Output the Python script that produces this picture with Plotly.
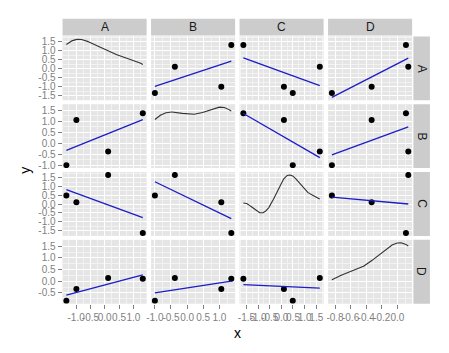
import numpy as np
import plotly.graph_objects as go
from plotly.subplots import make_subplots

# ---- data ----
VARS = ["A", "B", "C", "D"]
A = [-1.34, -0.99, 0.12, 1.33]
B = [-1.00, 1.06, -0.38, 1.37]
C = [0.49, 0.11, 1.65, -1.63]
D = [-0.84, -0.33, 0.14, 0.11]
DATA = {"A": A, "B": B, "C": C, "D": D}

X_TICKS = {
    "A": [-1.0, -0.5, 0.0, 0.5, 1.0],
    "B": [-1.0, -0.5, 0.0, 0.5, 1.0],
    "C": [-1.5, -1.0, -0.5, 0.0, 0.5, 1.0, 1.5],
    "D": [-0.8, -0.6, -0.4, -0.2, 0.0],
}
Y_TICKS = {
    "A": [-1.5, -1.0, -0.5, 0.0, 0.5, 1.0, 1.5],
    "B": [-1.0, -0.5, 0.0, 0.5, 1.0, 1.5],
    "C": [-1.5, -1.0, -0.5, 0.0, 0.5, 1.0, 1.5],
    "D": [-0.5, 0.0, 0.5, 1.0, 1.5],
}

W, H = 449, 353
COL_LEFT = [58.2, 147.7, 237.2, 326.7]
COL_W = 85.0
ROW_TOP = [36.7, 105.1, 173.5, 241.9]
ROW_H = 64.4

BG = "#E5E5E5"
STRIP = "#CCCCCC"
TICKC = "#7F7F7F"
FONT = "Liberation Sans, Arial, sans-serif"


def bw_nrd0(x):
    x = np.asarray(x, float)
    sd = np.std(x, ddof=1)
    q75, q25 = np.percentile(x, [75, 25])
    lo = min(sd, (q75 - q25) / 1.34)
    return 0.9 * lo * len(x) ** (-0.2)


def kde(x, grid):
    x = np.asarray(x, float)
    bw = bw_nrd0(x)
    z = (grid[:, None] - x[None, :]) / bw
    return np.exp(-0.5 * z ** 2).sum(axis=1) / (len(x) * bw * np.sqrt(2 * np.pi))


allvals = np.concatenate([np.asarray(DATA[v], float) for v in VARS])
gmin, gmax = allvals.min(), allvals.max()

# precompute layers
dens = {}
for v in VARS:
    x = np.asarray(DATA[v], float)
    grid = np.linspace(x.min(), x.max(), 512)
    d = kde(x, grid)
    dens[v] = (grid, d / d.max() * (gmax - gmin) + gmin)

fits = {}
for i, vy in enumerate(VARS):
    for j, vx in enumerate(VARS):
        if i == j:
            continue
        x = np.asarray(DATA[vx], float)
        y = np.asarray(DATA[vy], float)
        m, b = np.polyfit(x, y, 1)
        xs = np.array([x.min(), x.max()])
        fits[(i, j)] = (xs, m * xs + b)


def expand(lo, hi):
    d = hi - lo
    return [lo - 0.05 * d, hi + 0.05 * d]


xr = {}
for j, v in enumerate(VARS):
    x = np.asarray(DATA[v], float)
    xr[v] = expand(x.min(), x.max())

yr = {}
for i, v in enumerate(VARS):
    vals = list(DATA[v]) + list(dens[v][1])
    for j in range(4):
        if j != i:
            vals += list(fits[(i, j)][1])
    yr[v] = expand(min(vals), max(vals))


def minors(ticks, rng):
    step = ticks[1] - ticks[0]
    ext = [ticks[0] - step] + list(ticks) + [ticks[-1] + step]
    mids = [(a + b) / 2 for a, b in zip(ext[:-1], ext[1:])]
    return [m for m in mids if rng[0] <= m <= rng[1]]


def lab(v):
    s = f"{v:.1f}"
    return "0.0" if s == "-0.0" else s


fig = make_subplots(rows=4, cols=4)

for i, vy in enumerate(VARS):
    for j, vx in enumerate(VARS):
        if i == j:
            gx, gy = dens[vx]
            fig.add_trace(go.Scatter(x=gx, y=gy, mode="lines",
                                     line=dict(color="#333333", width=1.1),
                                     showlegend=False, hoverinfo="skip"),
                          row=i + 1, col=j + 1)
        else:
            fig.add_trace(go.Scatter(x=DATA[vx], y=DATA[vy], mode="markers",
                                     marker=dict(color="black", size=6),
                                     showlegend=False),
                          row=i + 1, col=j + 1)
            xs, ys = fits[(i, j)]
            fig.add_trace(go.Scatter(x=xs, y=ys, mode="lines",
                                     line=dict(color="#1C1CC8", width=1.3),
                                     showlegend=False, hoverinfo="skip"),
                          row=i + 1, col=j + 1)

for i, vy in enumerate(VARS):
    for j, vx in enumerate(VARS):
        x0 = COL_LEFT[j] / W
        x1 = (COL_LEFT[j] + COL_W) / W
        y1 = 1 - ROW_TOP[i] / H
        y0 = 1 - (ROW_TOP[i] + ROW_H) / H
        bottom = (i == 3)
        left = (j == 0)
        fig.update_xaxes(row=i + 1, col=j + 1, domain=[x0, x1], range=xr[vx],
                         tickmode="array", tickvals=X_TICKS[vx],
                         ticktext=[lab(t) for t in X_TICKS[vx]],
                         tickangle=0,
                         showticklabels=bottom, ticks="outside" if bottom else "",
                         ticklen=4, tickwidth=1, tickcolor=TICKC,
                         tickfont=dict(family=FONT, size=10, color=TICKC),
                         showgrid=True, gridcolor="white", gridwidth=1.1,
                         minor=dict(tickmode="array", tickvals=minors(X_TICKS[vx], xr[vx]),
                                    showgrid=True, gridcolor="#F2F2F2", gridwidth=0.6),
                         zeroline=False, showline=False, fixedrange=True)
        fig.update_yaxes(row=i + 1, col=j + 1, domain=[y0, y1], range=yr[vy],
                         tickmode="array", tickvals=Y_TICKS[vy],
                         ticktext=[lab(t) for t in Y_TICKS[vy]],
                         showticklabels=left, ticks="outside" if left else "",
                         ticklen=4, tickwidth=1, tickcolor=TICKC,
                         tickfont=dict(family=FONT, size=10, color=TICKC),
                         showgrid=True, gridcolor="white", gridwidth=1.1,
                         minor=dict(tickmode="array", tickvals=minors(Y_TICKS[vy], yr[vy]),
                                    showgrid=True, gridcolor="#F2F2F2", gridwidth=0.6),
                         zeroline=False, showline=False, fixedrange=True)

shapes = []
annotations = []
STRIP_TOP = (19.0, 35.7)
STRIP_RIGHT = (413.0, 429.7)
for j, v in enumerate(VARS):
    shapes.append(dict(type="rect", xref="paper", yref="paper",
                       x0=COL_LEFT[j] / W, x1=(COL_LEFT[j] + COL_W) / W,
                       y0=1 - STRIP_TOP[1] / H, y1=1 - STRIP_TOP[0] / H,
                       fillcolor=STRIP, line=dict(width=0), layer="below"))
    annotations.append(dict(text=v, xref="paper", yref="paper",
                            x=(COL_LEFT[j] + COL_W / 2) / W,
                            y=1 - (STRIP_TOP[0] + STRIP_TOP[1]) / 2 / H,
                            showarrow=False, xanchor="center", yanchor="middle",
                            font=dict(family=FONT, size=12, color="#1A1A1A")))
for i, v in enumerate(VARS):
    shapes.append(dict(type="rect", xref="paper", yref="paper",
                       x0=STRIP_RIGHT[0] / W, x1=STRIP_RIGHT[1] / W,
                       y0=1 - (ROW_TOP[i] + ROW_H) / H, y1=1 - ROW_TOP[i] / H,
                       fillcolor=STRIP, line=dict(width=0), layer="below"))
    annotations.append(dict(text=v, xref="paper", yref="paper",
                            x=(STRIP_RIGHT[0] + STRIP_RIGHT[1]) / 2 / W,
                            y=1 - (ROW_TOP[i] + ROW_H / 2) / H,
                            showarrow=False, xanchor="center", yanchor="middle",
                            textangle=90,
                            font=dict(family=FONT, size=12, color="#1A1A1A")))

annotations.append(dict(text="x", xref="paper", yref="paper",
                        x=235.2 / W, y=1 - 336 / H, showarrow=False,
                        xanchor="center", yanchor="middle",
                        font=dict(family=FONT, size=14, color="black")))
annotations.append(dict(text="y", xref="paper", yref="paper",
                        x=20 / W, y=1 - 171.5 / H, showarrow=False,
                        xanchor="center", yanchor="middle", textangle=-90,
                        font=dict(family=FONT, size=14, color="black")))

fig.update_layout(width=W, height=H, margin=dict(l=0, r=0, t=0, b=0),
                  paper_bgcolor="white", plot_bgcolor=BG,
                  shapes=shapes, annotations=annotations, showlegend=False)

fig.write_html("out.html")
